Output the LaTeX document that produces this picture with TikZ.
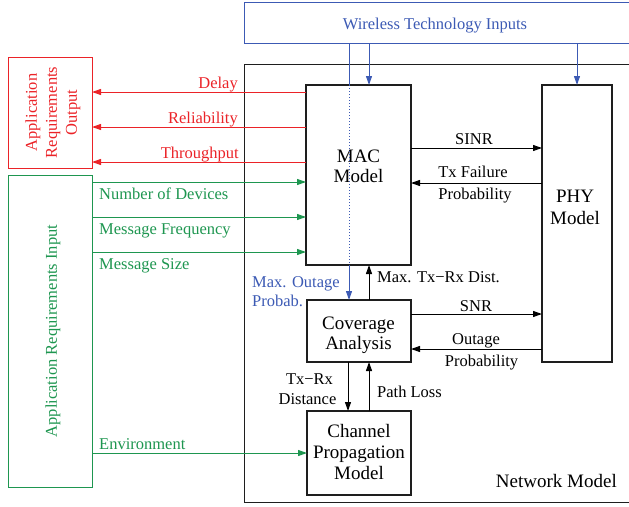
\documentclass[tikz,border=0pt]{standalone}
\usepackage{fontspec}
\setmainfont{Liberation Serif}
\usetikzlibrary{arrows.meta}
\definecolor{rred}{RGB}{235,35,40}
\definecolor{ggreen}{RGB}{30,150,80}
\definecolor{bblue}{RGB}{60,90,180}
\definecolor{bline}{RGB}{30,30,30}
\begin{document}
\begin{tikzpicture}[x=1pt,y=-1pt,
  box/.style={draw=bline, line width=1.3pt, inner sep=0pt, outer sep=0pt, anchor=north west},
  cbox/.style={draw=#1, line width=1pt, inner sep=0pt, outer sep=0pt, anchor=north west},
  elab/.style={font=\fontsize{16.5}{20}\selectfont, inner sep=0pt, anchor=base, yshift=1pt},
  blab/.style={font=\fontsize{19}{21}\selectfont, inner sep=0pt, anchor=base, yshift=1pt},
  arr/.style={-{Triangle[length=9pt,width=6pt]}, line width=1pt},
]
\useasboundingbox (0,0) rectangle (629,506);
\clip (0,0) rectangle (629,506);

% boxes
\node[cbox=bblue, minimum width=400pt, minimum height=41pt] (wti) at (244,2) {};
\node[box, line width=1pt, minimum width=400pt, minimum height=438pt] (net) at (244,64) {};
\node[box, minimum width=105pt, minimum height=180pt] (mac) at (306,85) {};
\node[box, minimum width=70pt, minimum height=277pt] (phy) at (542,85) {};
\node[box, minimum width=104pt, minimum height=62pt] (cov) at (307,300) {};
\node[box, minimum width=104pt, minimum height=84pt] (chan) at (307,411) {};
\node[cbox=rred, minimum width=84pt, minimum height=111pt] (out) at (8,57) {};
\node[cbox=ggreen, minimum width=84pt, minimum height=312pt] (inp) at (8,175) {};

% box texts
\node[elab, text=bblue] (twti) at (435,30) {Wireless Technology Inputs};
\node[blab] (tmac1) at (358.5,163) {MAC};
\node[blab] (tmac2) at (358.5,183) {Model};
\node[blab] (tphy1) at (575,203) {PHY};
\node[blab] (tphy2) at (575,225) {Model};
\node[blab] (tcov1) at (358.5,330) {Coverage};
\node[blab] (tcov2) at (358.5,350) {Analysis};
\node[blab] (tch1) at (359,438) {Channel};
\node[blab] (tch2) at (359,459) {Propagation};
\node[blab] (tch3) at (359,480) {Model};
\node[blab, anchor=base east] (tnet) at (617,488) {Network Model};
\node[font=\fontsize{16.5}{20}\selectfont, text=rred, rotate=90, align=center, inner sep=0pt] (tout) at (53,112.5) {Application\\Requirements\\Output};
\node[font=\fontsize{16.5}{20}\selectfont, text=ggreen, rotate=90, inner sep=0pt] (tinp) at (53,331) {Application Requirements Input};

% outputs (red)
\draw[arr, rred] (mac.west|-0,92) -- (out.east|-0,92);
\draw[arr, rred] (mac.west|-0,127) -- (out.east|-0,127);
\draw[arr, rred] (mac.west|-0,162) -- (out.east|-0,162);
\node[elab, anchor=base east, text=rred] (ldelay) at (238,89.5) {Delay};
\node[elab, anchor=base east, text=rred] (lrel) at (238,124.5) {Reliability};
\node[elab, anchor=base east, text=rred] (lthr) at (239,159.5) {Throughput};

% inputs (green)
\draw[arr, ggreen] (inp.east|-0,182) -- (mac.west|-0,182);
\draw[arr, ggreen] (inp.east|-0,217) -- (mac.west|-0,217);
\draw[arr, ggreen] (inp.east|-0,252) -- (mac.west|-0,252);
\draw[arr, ggreen] (inp.east|-0,453) -- (chan.west|-0,453);
\node[elab, anchor=base west, text=ggreen] (lnum) at (99,200) {Number of Devices};
\node[elab, anchor=base west, text=ggreen] (lfreq) at (99,235) {Message Frequency};
\node[elab, anchor=base west, text=ggreen] (lsize) at (99,270) {Message Size};
\node[elab, anchor=base west, text=ggreen] (lenv) at (99,450) {Environment};

% wireless (blue)
\draw[arr, bblue] (369,0|-wti.south) -- (369,0|-mac.north);
\draw[arr, bblue] (577,0|-wti.south) -- (577,0|-phy.north);
\draw[bblue, line width=1pt] (349,0|-wti.south) -- (349,0|-mac.north);
\draw[bblue, line width=1pt, dotted] (349,0|-mac.north) -- (349,0|-mac.south);
\draw[arr, bblue] (349,0|-mac.south) -- (349,0|-cov.north);
\node[elab, anchor=base west, text=bblue] (lmop1) at (252,288) {Max. Outage};
\node[elab, anchor=base west, text=bblue] (lmop2) at (252,307) {Probab.};

% internal (black)
\draw[arr] (mac.east|-0,148) -- (phy.west|-0,148);
\node[elab] (lsinr) at (474,145) {SINR};
\draw[arr] (phy.west|-0,183) -- (mac.east|-0,183);
\node[elab] (ltxf1) at (473,178) {Tx Failure};
\node[elab] (ltxf2) at (475,200) {Probability};
\draw[arr] (369,0|-cov.north) -- (369,0|-mac.south);
\node[elab, anchor=base west] (lmtx) at (377,283) {Max. Tx−Rx Dist.};
\draw[arr] (cov.east|-0,314) -- (phy.west|-0,314);
\node[elab] (lsnr) at (476,312) {SNR};
\draw[arr] (phy.west|-0,349) -- (cov.east|-0,349);
\node[elab] (lout1) at (476,345) {Outage};
\node[elab] (lout2) at (481.5,367) {Probability};
\draw[arr] (348,0|-cov.south) -- (348,0|-chan.north);
\node[elab] (ltxd1) at (309.5,385) {Tx−Rx};
\node[elab] (ltxd2) at (307.5,405) {Distance};
\draw[arr] (369,0|-chan.north) -- (369,0|-cov.south);
\node[elab, anchor=base west] (lpl) at (377,398) {Path Loss};
\end{tikzpicture}
\end{document}
